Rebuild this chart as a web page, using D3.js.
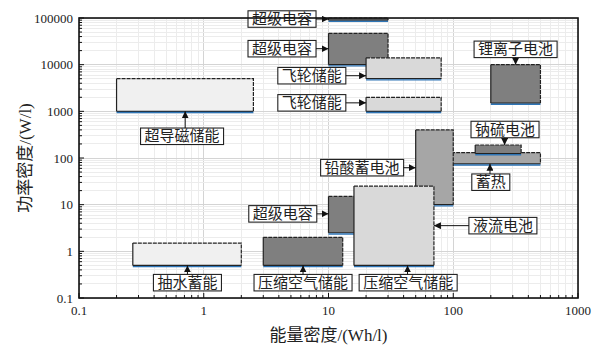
<!DOCTYPE html>
<html><head><meta charset="utf-8">
<script src="https://cdn.jsdelivr.net/npm/d3@7"></script>
<style>body{margin:0;background:#fff}svg{display:block}</style>
</head><body>
<script>
// ---- data ----
const techNames   = ["蓄热","钠硫电池","铅酸蓄电池","超级电容","液流电池","压缩空气储能","抽水蓄能","超导磁储能","超级电容","超级电容","飞轮储能","飞轮储能","锂离子电池"];
const energyMin   = [80, 150, 50, 10, 16, 3, 0.27, 0.2, 10, 10, 20, 20, 200];
const energyMax   = [500, 350, 100, 25, 70, 13, 2, 2.5, 30, 30, 80, 80, 500];
const powerMin    = [75, 125, 10, 2.5, 0.5, 0.5, 0.5, 1000, 90000, 10000, 5000, 1000, 1500];
const powerMax    = [130, 190, 400, 15, 25, 2, 1.5, 5000, 100000, 47000, 14000, 2000, 10000];
const fills       = ["#a6a6a6","#7f7f7f","#a6a6a6","#7f7f7f","#d9d9d9","#7f7f7f","#f0f0f0","#f0f0f0","#7f7f7f","#7f7f7f","#d9d9d9","#d9d9d9","#7f7f7f"];

const labelTexts  = ["超级电容","超级电容","飞轮储能","飞轮储能","锂离子电池","钠硫电池","蓄热","铅酸蓄电池","液流电池","超级电容","压缩空气储能","压缩空气储能","抽水蓄能","超导磁储能"];
const labelE      = [4.24, 4.24, 7.35, 7.35, 316, 260, 200, 18.6, 250, 4.3, 6.25, 43.5, 0.74, 0.67];
const labelP      = [95000, 22000, 5800, 1520, 21300, 408, 30.3, 62, 3.55, 6.35, 0.213, 0.213, 0.213, 292];
const tipE        = [10, 10, 20, 20, 316, 258, 197, 50, 70, 10, 6.25, 43, 0.74, 0.71];
const tipP        = [95000, 22000, 5800, 1520, 10000, 190, 75, 62, 3.55, 6.35, 0.5, 0.5, 0.5, 1000];

const xTicks = [0.1, 1, 10, 100, 1000];
const xTickLabels = ["0.1","1","10","100","1000"];
const yTicks = [0.1, 1, 10, 100, 1000, 10000, 100000];
const yTickLabels = ["0.1","1","10","100","1000","10000","100000"];
const xTitle = "能量密度/(Wh/l)";
const yTitle = "功率密度/(W/l)";

// ---- layout ----
const W = 599, H = 345;
const m = {left: 79, right: 21, top: 18, bottom: 47};
const x = d3.scaleLog().domain([0.1, 1000]).range([m.left, W - m.right]);
const y = d3.scaleLog().domain([0.1, 100000]).range([H - m.bottom, m.top]);
const FONT = "'Liberation Serif','Noto Sans CJK SC',serif";

const svg = d3.select("body").append("svg").attr("width", W).attr("height", H);
const defs = svg.append("defs");
defs.append("marker").attr("id","arr").attr("viewBox","0 0 10 10").attr("refX",10).attr("refY",5)
  .attr("markerWidth",7).attr("markerHeight",7).attr("markerUnits","userSpaceOnUse").attr("orient","auto")
  .append("path").attr("d","M0,0L10,5L0,10Z").attr("fill","#111");

const minorVals = (lo, hi) => { const a=[]; for (let e=Math.log10(lo); e<Math.log10(hi); e++) for (let k=1;k<10;k++) a.push(Math.pow(10,e)*k); a.push(hi); return a; };
const xMinor = minorVals(0.1, 1000), yMinor = minorVals(0.1, 100000);
const isMajor = (arr, d) => arr.some(t=>Math.abs(t-d)/t<1e-6);

// grid
const g = svg.append("g");
g.selectAll(".gx").data(xMinor).join("line")
  .attr("x1", d=>x(d)).attr("x2", d=>x(d)).attr("y1", m.top).attr("y2", H-m.bottom)
  .attr("stroke", d=>isMajor(xTicks,d)?"#d4d4d4":"#ececec").attr("stroke-width",1).attr("shape-rendering","crispEdges");
g.selectAll(".gy").data(yMinor).join("line")
  .attr("y1", d=>y(d)).attr("y2", d=>y(d)).attr("x1", m.left).attr("x2", W-m.right)
  .attr("stroke", d=>isMajor(yTicks,d)?"#d4d4d4":"#ececec").attr("stroke-width",1).attr("shape-rendering","crispEdges");

// boxes
const bx = svg.append("g");
d3.range(techNames.length).forEach(i => {
  const x0 = x(energyMin[i]), x1 = x(energyMax[i]), y0 = y(powerMax[i]), y1 = y(powerMin[i]);
  const gg = bx.append("g");
  gg.append("rect").attr("x", x0).attr("y", y0).attr("width", x1-x0).attr("height", Math.max(1.5, y1-y0))
    .attr("fill", fills[i]).attr("stroke","none");
  gg.append("path").attr("d", `M${x0},${y1}L${x0},${y0}`).attr("stroke","#222").attr("stroke-width",1.2).attr("fill","none");
  gg.append("path").attr("d", `M${x0},${y0}L${x1},${y0}L${x1},${y1}`).attr("stroke","#222").attr("stroke-width",1.2)
    .attr("stroke-dasharray","4,1").attr("fill","none");
  gg.append("line").attr("x1",x0).attr("x2",x1).attr("y1",y1).attr("y2",y1).attr("stroke","#222").attr("stroke-width",1.2);
  gg.append("line").attr("x1",x0).attr("x2",x1).attr("y1",y1+1.2).attr("y2",y1+1.2).attr("stroke","#2e75b6").attr("stroke-width",1.4);
});

// annotations
const an = svg.append("g");
labelTexts.forEach((t, i) => {
  const cx = x(labelE[i]), cy = y(labelP[i]);
  const txt = an.append("text").attr("x", cx).attr("y", cy).attr("text-anchor","middle").attr("dominant-baseline","central")
    .attr("font-family", FONT).attr("font-size", 15).attr("fill","#222").text(t);
  const bw = txt.node().getComputedTextLength() + 8, bh = 16.5;
  an.insert("rect", () => txt.node()).attr("x", cx-bw/2).attr("y", cy-bh/2).attr("width", bw).attr("height", bh)
    .attr("fill","#fff").attr("stroke","#222").attr("stroke-width",1.1);
  const tx = x(tipE[i]), ty = y(tipP[i]);
  let sx, sy;
  if (Math.abs(ty - cy) < 3) { sy = ty; sx = tx > cx ? cx + bw/2 : cx - bw/2; }
  else { sx = tx; sy = ty > cy ? cy + bh/2 : cy - bh/2; }
  an.append("line").attr("x1", sx).attr("y1", sy).attr("x2", tx).attr("y2", ty)
    .attr("stroke","#111").attr("stroke-width",1).attr("marker-end","url(#arr)");
});

// frame
svg.append("rect").attr("x", m.left).attr("y", m.top).attr("width", W-m.left-m.right).attr("height", H-m.top-m.bottom)
  .attr("fill","none").attr("stroke","#111").attr("stroke-width",1.6);

// ticks (inward) and labels
const tk = svg.append("g");
xMinor.forEach(d => {
  tk.append("line").attr("x1",x(d)).attr("x2",x(d)).attr("y1",H-m.bottom).attr("y2",H-m.bottom-(isMajor(xTicks,d)?5:3)).attr("stroke","#111").attr("stroke-width",1);
});
yMinor.forEach(d => {
  tk.append("line").attr("y1",y(d)).attr("y2",y(d)).attr("x1",m.left).attr("x2",m.left+(isMajor(yTicks,d)?5:3)).attr("stroke","#111").attr("stroke-width",1);
});
xTicks.forEach((d,i) => {
  tk.append("text").attr("x", x(d)).attr("y", H-m.bottom+17).attr("text-anchor","middle")
    .attr("font-family", FONT).attr("font-size", 13).attr("fill","#222").text(xTickLabels[i]);
});
yTicks.forEach((d,i) => {
  tk.append("text").attr("x", m.left-6).attr("y", y(d)).attr("dy","0.35em").attr("text-anchor","end")
    .attr("font-family", FONT).attr("font-size", 13).attr("fill","#222").text(yTickLabels[i]);
});

// titles
svg.append("text").attr("x", (m.left + W - m.right)/2).attr("y", 341).attr("text-anchor","middle")
  .attr("font-family", FONT).attr("font-size", 17).attr("fill","#222").text(xTitle);
svg.append("text").attr("transform", `translate(31,${(m.top + H - m.bottom)/2}) rotate(-90)`).attr("text-anchor","middle")
  .attr("font-family", FONT).attr("font-size", 17).attr("fill","#222").text(yTitle);
</script>
</body></html>
